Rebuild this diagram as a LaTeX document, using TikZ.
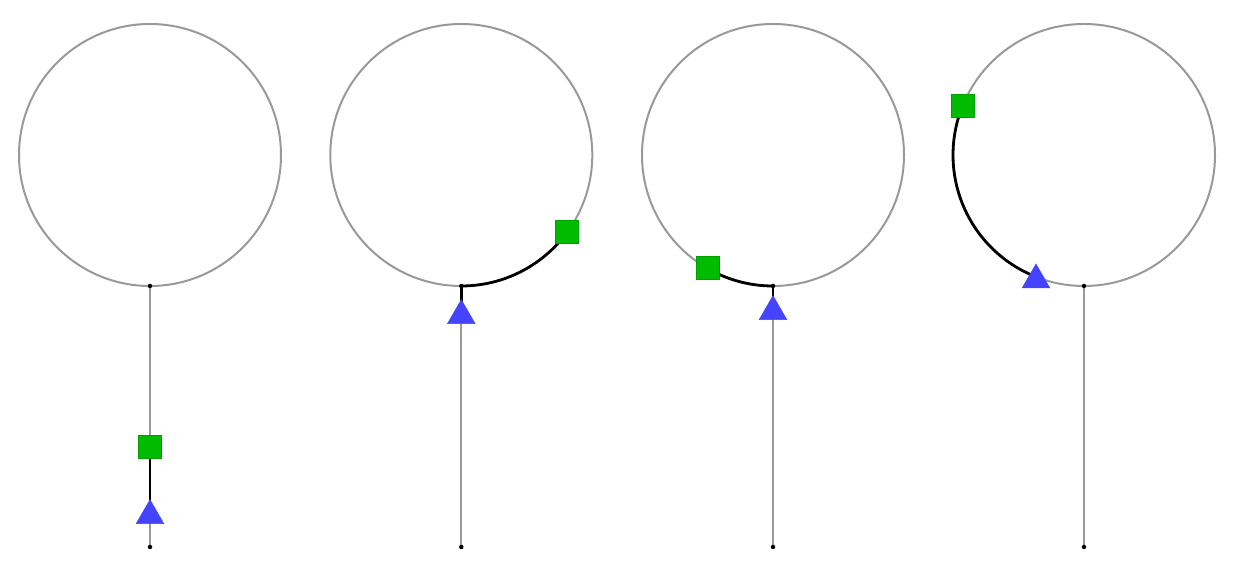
\documentclass[tikz,border=0pt]{standalone}
\usetikzlibrary{shapes.geometric}
\definecolor{ringgray}{HTML}{999999}
\definecolor{sqfill}{HTML}{00BB00}
\definecolor{sqdraw}{HTML}{00A000}
\definecolor{trifill}{HTML}{4444FF}
\tikzset{
  gline/.style={draw=ringgray, line width=2pt},
  bline/.style={draw=black, line width=2.8pt},
  sqmark/.style={rectangle, fill=sqfill, draw=sqdraw, line width=1pt, minimum size=23pt, inner sep=0pt},
  trimark/.style={regular polygon, regular polygon sides=3, fill=trifill, draw=trifill, line width=0.5pt, minimum size=32pt, inner sep=0pt},
  dotc/.style={circle, fill=black, minimum size=4.5pt, inner sep=0pt},
}
\begin{document}
\begin{tikzpicture}[x=1pt,y=1pt]
\useasboundingbox (0,0) rectangle (1240,570);
% panel 1
\coordinate (c1) at (150,415);
\coordinate (b1) at (150,284);
\coordinate (e1) at (150,23);
\coordinate (p1) at (150,123);
\coordinate (r1) at (150,54.3);
\draw[gline] (c1) circle[radius=131];
\draw[gline] (b1) -- (e1);
\draw[bline] (p1) -- (r1);
\node[dotc] (d1a) at (b1) {};
\node[dotc] (d1b) at (e1) {};
\node[sqmark] (s1) at (p1) {};
\node[trimark] (t1) at (r1) {};
% panel 2
\coordinate (c2) at (461.3,415);
\coordinate (b2) at (461.3,284);
\coordinate (e2) at (461.3,23);
\coordinate (r2) at (461.3,254.3);
\draw[gline] (c2) circle[radius=131];
\draw[gline] (b2) -- (e2);
\draw[bline] (b2) arc[start angle=-90, end angle=-36, radius=131];
\draw[bline] (b2) -- (r2);
\node[dotc] (d2a) at (b2) {};
\node[dotc] (d2b) at (e2) {};
\node[trimark] (t2) at (r2) {};
\node[sqmark] (s2) at ([shift={(-36:131)}]c2) {};
% panel 3
\coordinate (c3) at (773,415);
\coordinate (b3) at (773,284);
\coordinate (e3) at (773,23);
\coordinate (r3) at (773,258.3);
\draw[gline] (c3) circle[radius=131];
\draw[gline] (b3) -- (e3);
\draw[bline] ([shift={(-120:131)}]c3) arc[start angle=-120, end angle=-90, radius=131];
\draw[bline] (b3) -- (r3);
\node[dotc] (d3a) at (b3) {};
\node[dotc] (d3b) at (e3) {};
\node[trimark] (t3) at (r3) {};
\node[sqmark] (s3) at ([shift={(-120:131)}]c3) {};
% panel 4
\coordinate (c4) at (1084,415);
\coordinate (b4) at (1084,284);
\coordinate (e4) at (1084,23);
\draw[gline] (c4) circle[radius=131];
\draw[gline] (b4) -- (e4);
\draw[bline] ([shift={(158:131)}]c4) arc[start angle=158, end angle=248.5, radius=131];
\node[dotc] (d4a) at (b4) {};
\node[dotc] (d4b) at (e4) {};
\node[trimark] (t4) at (1036,290) {};
\node[sqmark] (s4) at ([shift={(158:131)}]c4) {};
\end{tikzpicture}
\end{document}
